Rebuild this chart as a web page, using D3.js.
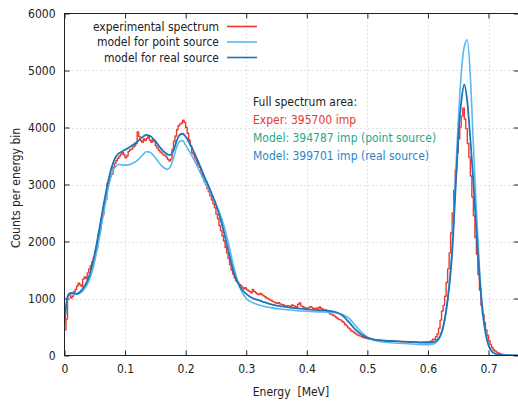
<!DOCTYPE html>
<html><head><meta charset="utf-8">
<script src="https://cdn.jsdelivr.net/npm/d3@7"></script>
<style>
body{margin:0;background:#fff;}
text{font-family:"DejaVu Sans Condensed","DejaVu Sans",sans-serif;font-stretch:condensed;}
</style></head><body>
<svg id="c" width="518" height="402"></svg>
<script>
// ---------- data ----------
const binWidth = 0.0025; // MeV
const expCounts = [
 450,640,1050,1090,1010,1040,1120,1160,1220,1270,
 1240,1210,1340,1380,1350,1450,1520,1580,1640,1720,
 1820,1900,2120,2200,2400,2470,2690,2740,3020,3060,
 3140,3180,3300,3370,3420,3460,3500,3530,3560,3520,
 3470,3500,3580,3610,3620,3660,3680,3720,3920,3840,
 3770,3740,3800,3770,3810,3840,3780,3740,3790,3760,
 3680,3640,3600,3570,3550,3520,3510,3480,3440,3410,
 3450,3620,3760,3850,3960,4030,4060,4080,4130,4090,
 4000,3900,3780,3680,3560,3520,3450,3400,3340,3300,
 3190,3130,3050,3000,2930,2870,2800,2730,2660,2590,
 2480,2400,2280,2190,2100,2010,1900,1800,1700,1590,
 1500,1430,1360,1310,1290,1250,1230,1200,1170,1190,
 1160,1140,1120,1100,1160,1120,1100,1080,1070,1090,
 1070,1050,1030,1010,1000,980,970,950,940,925,
 915,925,905,895,890,875,865,875,870,855,
 885,875,860,845,900,920,870,855,845,835,
 825,840,855,845,825,815,835,825,850,830,
 815,805,800,775,755,730,720,705,690,670,
 650,630,625,600,580,545,520,485,465,435,
 420,400,380,362,350,340,328,315,308,302,
 295,287,283,277,272,268,267,263,264,259,
 258,253,251,249,254,250,247,249,252,248,
 246,244,241,239,244,240,236,234,233,231,
 229,231,234,230,227,229,234,236,236,240,
 238,245,255,285,280,330,380,480,620,780,
 880,1040,1280,1520,1800,2150,2500,2900,3250,3560,
 3800,4010,4200,4340,4150,3980,3720,3480,3150,2780,
 2450,2070,1780,1420,1150,880,720,580,450,350,
 260,190,140,100,80,60,45,35,25,18,
 12,9,6,5,3,2,1,0,0,0
];
const modelEnergy = [
 0,0.003,0.006,0.01,0.015,0.02,0.025,0.03,0.035,0.04,
 0.045,0.05,0.055,0.06,0.065,0.07,0.075,0.08,0.085,0.09,
 0.095,0.1,0.11,0.12,0.13,0.135,0.14,0.15,0.16,0.17,
 0.175,0.18,0.185,0.19,0.195,0.2,0.21,0.22,0.23,0.24,
 0.25,0.26,0.27,0.28,0.29,0.3,0.31,0.32,0.33,0.34,
 0.36,0.38,0.4,0.42,0.44,0.45,0.46,0.47,0.48,0.49,
 0.5,0.51,0.52,0.54,0.56,0.58,0.6,0.61,0.615,0.62,
 0.625,0.63,0.635,0.64,0.645,0.65,0.655,0.66,0.665,0.67,
 0.675,0.68,0.685,0.69,0.695,0.7,0.705,0.71,0.72,0.73,0.75
];
const pointSource = [
 520,860,1040,1085,1080,1075,1090,1130,1200,1300,
 1450,1660,1920,2210,2520,2820,3070,3240,3320,3350,
 3345,3340,3360,3420,3530,3575,3570,3470,3330,3265,
 3320,3470,3650,3760,3770,3690,3510,3300,3080,2880,
 2660,2390,2000,1530,1180,1000,930,890,860,840,
 810,790,775,765,755,745,715,650,530,410,
 320,270,245,225,210,198,190,205,240,320,
 480,780,1220,1900,3000,4100,4950,5420,5540,4900,
 3700,2550,1550,820,420,190,85,38,10,3,0
];
const realSource = [
 560,900,1060,1100,1095,1085,1110,1170,1250,1370,
 1550,1790,2070,2370,2670,2950,3190,3370,3490,3550,
 3580,3610,3670,3750,3840,3870,3860,3760,3620,3530,
 3520,3600,3760,3870,3890,3840,3650,3420,3160,2920,
 2650,2300,1860,1440,1200,1080,1010,970,935,900,
 860,830,810,795,780,755,690,580,460,370,
 315,285,268,255,243,233,225,240,270,340,
 500,780,1200,1800,2800,3800,4450,4750,4450,3800,
 3050,2200,1400,800,400,180,80,35,10,3,0
];
const xTicks = [0,0.1,0.2,0.3,0.4,0.5,0.6,0.7];
const yTicks = [0,1000,2000,3000,4000,5000,6000];
const legendLabels = ["experimental spectrum","model for point source","model for real source"];
const areaTitle = "Full spectrum area:";
const areaLines = ["Exper: 395700 imp","Model: 394787 imp (point source)","Model: 399701 imp (real source)"];

// ---------- chart ----------
const cRed="#ec3b2e", cLight="#5ab8ec", cDark="#1c74bb";
const FS = 12;
const svg = d3.select("#c");
const x = d3.scaleLinear().domain([0,0.75]).range([64.5,518.8]);
const y = d3.scaleLinear().domain([0,6000]).range([355.5,13.5]);
const L=64.5,R=518.8,T=13.5,B=355.5;

// grid
const g = svg.append("g");
xTicks.filter(d=>d>0).forEach(d=>g.append("line").attr("x1",Math.round(x(d))+0.5).attr("x2",Math.round(x(d))+0.5)
  .attr("y1",T).attr("y2",B).attr("stroke","#c4c4c4").attr("stroke-dasharray","1,3"));
yTicks.filter(d=>d>0&&d<6000).forEach(d=>g.append("line").attr("y1",Math.round(y(d))+0.5).attr("y2",Math.round(y(d))+0.5)
  .attr("x1",L).attr("x2",R).attr("stroke","#c4c4c4").attr("stroke-dasharray","1,3"));

// annotation text
const ann = svg.append("g").attr("font-size",FS);
ann.append("text").attr("x",253).attr("y",105.5).attr("fill","#222").text(areaTitle);
const annCols=["#e8392c","#22a98a","#2b86c8"];
areaLines.forEach((t,i)=>ann.append("text").attr("x",253).attr("y",124+i*18).attr("fill",annCols[i]).text(t));

// axes
const axB = d3.axisBottom(x).tickValues(xTicks).tickFormat(d3.format("")).tickSizeInner(-5).tickSizeOuter(0).tickPadding(9);
const axT = d3.axisTop(x).tickValues(xTicks).tickFormat("").tickSizeInner(-5).tickSizeOuter(0);
const axL = d3.axisLeft(y).tickValues(yTicks).tickFormat(d3.format("d")).tickSizeInner(-5).tickSizeOuter(0).tickPadding(9);
const axR = d3.axisRight(y).tickValues(yTicks).tickFormat("").tickSizeInner(-5).tickSizeOuter(0);
function style(sel){sel.select(".domain").remove();sel.selectAll("line").attr("stroke","#222");
  sel.selectAll("text").attr("font-family",null).attr("font-size",FS).attr("fill","#222");}
svg.append("g").attr("transform",`translate(0,${B})`).call(axB).call(style);
svg.append("g").attr("transform",`translate(0,${T})`).call(axT).call(style);
svg.append("g").attr("transform",`translate(${L},0)`).call(axL).call(style);
svg.append("g").attr("transform",`translate(${R},0)`).call(axR).call(style);

// clip
svg.append("clipPath").attr("id","clip").append("rect").attr("x",L).attr("y",T).attr("width",R-L).attr("height",B-T);
const plot = svg.append("g").attr("clip-path","url(#clip)");

const expPts = expCounts.map((v,i)=>[i*binWidth,v]);
expPts.push([expCounts.length*binWidth, expCounts[expCounts.length-1]]);
const stepLine = d3.line().x(d=>x(d[0])).y(d=>y(d[1])).curve(d3.curveStepAfter);
const smooth = d3.line().x(d=>x(d[0])).y(d=>y(d[1])).curve(d3.curveMonotoneX);

plot.append("path").datum(expPts).attr("d",stepLine).attr("fill","none").attr("stroke",cRed).attr("stroke-width",1.4).attr("stroke-linejoin","round");
plot.append("path").datum(modelEnergy.map((e,i)=>[e,pointSource[i]])).attr("d",smooth).attr("fill","none").attr("stroke",cLight).attr("stroke-width",1.6);
plot.append("path").datum(modelEnergy.map((e,i)=>[e,realSource[i]])).attr("d",smooth).attr("fill","none").attr("stroke",cDark).attr("stroke-width",1.8);

// frame
svg.append("rect").attr("x",L).attr("y",T).attr("width",R-L).attr("height",B-T).attr("fill","none").attr("stroke","#222");

// legend
const lg = svg.append("g").attr("font-size",FS);
const lc=[cRed,cLight,cDark];
legendLabels.forEach((t,i)=>{
  const yy = 26.5+i*15.5;
  lg.append("text").attr("x",219).attr("y",yy).attr("dy","0.35em").attr("text-anchor","end").attr("fill","#222").text(t);
  lg.append("line").attr("x1",227).attr("x2",257).attr("y1",yy).attr("y2",yy).attr("stroke",lc[i]).attr("stroke-width",1.6);
});

// axis titles
svg.append("text").attr("x",291).attr("y",396).attr("text-anchor","middle").attr("font-size",FS).attr("fill","#222")
  .style("white-space","pre").text("Energy  [MeV]");
svg.append("text").attr("transform","translate(20,188) rotate(-90)").attr("text-anchor","middle").attr("font-size",FS).attr("fill","#222")
  .text("Counts per energy bin");
</script></body></html>
